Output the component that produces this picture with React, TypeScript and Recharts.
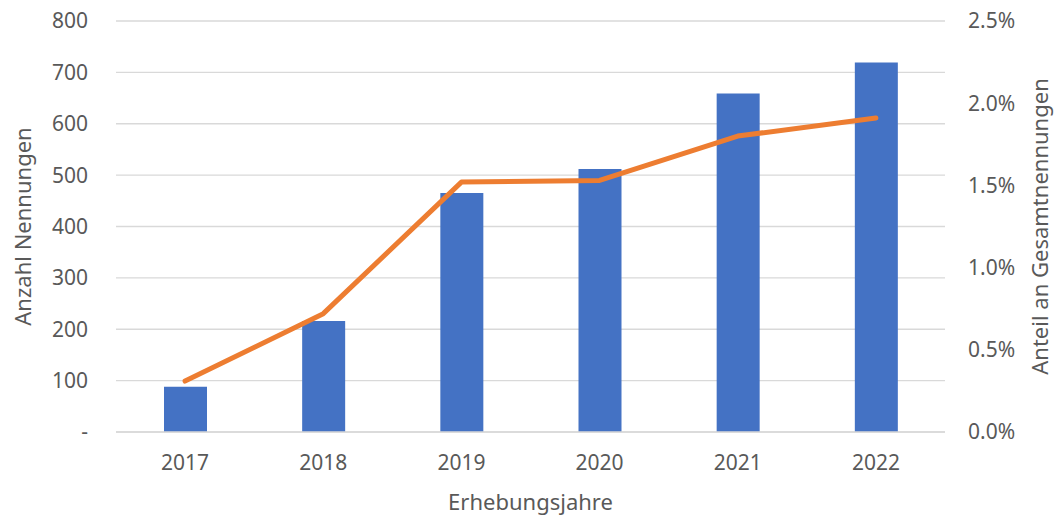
import { ComposedChart, Bar, Line, XAxis, YAxis, CartesianGrid } from 'recharts';

const years = ['2017', '2018', '2019', '2020', '2021', '2022'];
const nennungen = [88, 216, 465, 512, 659, 719];
const anteil = [0.31, 0.72, 1.52, 1.53, 1.8, 1.91];
const leftTicks = [0, 100, 200, 300, 400, 500, 600, 700, 800];
const rightTicks = [0, 0.5, 1, 1.5, 2, 2.5];

const data = years.map((year, i) => ({ year, nennungen: nennungen[i], anteil: anteil[i] }));

const font = '"Noto Sans", sans-serif';
const textColor = '#595959';
const fs = 21;
const titleFs = 22;
const tickStyle = { fill: textColor, fontSize: fs, fontFamily: font };

export default function App() {
  return (
    <div style={{ position: 'absolute', left: 0, top: 0, fontFamily: font, fontSize: fs }}>
      <ComposedChart
        width={1056}
        height={517}
        data={data}
        margin={{ top: 21, right: 0, bottom: 0, left: 0 }}
        style={{ fontSize: fs }}
      >
        <CartesianGrid vertical={false} stroke="#D9D9D9" strokeWidth={1.3} yAxisId="left" />
        <XAxis
          dataKey="year"
          height={85}
          tickLine={false}
          axisLine={{ stroke: '#D9D9D9', strokeWidth: 1.3 }}
          tickSize={0}
          tickMargin={23}
          fontSize={fs}
          tick={tickStyle}
          label={{ value: 'Erhebungsjahre', position: 'insideBottom', offset: 7, fill: textColor, fontSize: titleFs, fontFamily: font }}
        />
        <YAxis
          yAxisId="left"
          width={116}
          domain={[0, 800]}
          ticks={leftTicks}
          interval={0}
          axisLine={false}
          tickLine={false}
          tickSize={0}
          tickMargin={28}
          fontSize={fs}
          tickFormatter={(v: number) => (v === 0 ? '-' : String(v))}
          tick={tickStyle}
          label={{ value: 'Anzahl Nennungen', angle: -90, position: 'insideLeft', offset: 23, fill: textColor, fontSize: titleFs, fontFamily: font, style: { textAnchor: 'middle' } }}
        />
        <YAxis
          yAxisId="right"
          orientation="right"
          width={111}
          domain={[0, 2.5]}
          ticks={rightTicks}
          interval={0}
          axisLine={false}
          tickLine={false}
          tickSize={0}
          tickMargin={23}
          fontSize={fs}
          tickFormatter={(v: number) => v.toFixed(1) + '%'}
          tick={tickStyle}
          label={{ value: 'Anteil an Gesamtnennungen', angle: -90, position: 'insideRight', offset: 16, fill: textColor, fontSize: titleFs, fontFamily: font, style: { textAnchor: 'middle' } }}
        />
        <Bar yAxisId="left" dataKey="nennungen" fill="#4472C4" barSize={43} isAnimationActive={false} />
        <Line
          yAxisId="right"
          dataKey="anteil"
          type="linear"
          stroke="#ED7D31"
          strokeWidth={5}
          strokeLinecap="round"
          strokeLinejoin="round"
          dot={false}
          activeDot={false}
          isAnimationActive={false}
        />
      </ComposedChart>
    </div>
  );
}
